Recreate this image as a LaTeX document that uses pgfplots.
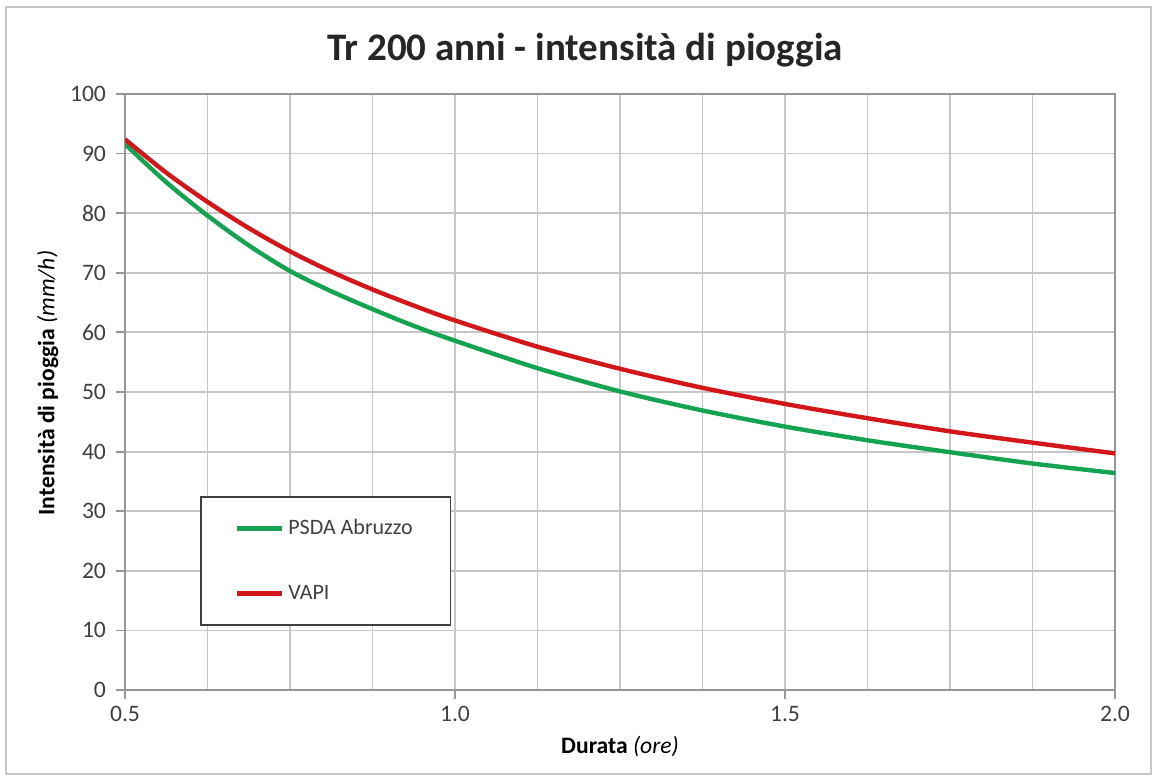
\documentclass[border=0pt]{standalone}
\usepackage{fontspec}
\setmainfont{Carlito}
\usepackage{pgfplots}
\usepackage{pgfplotstable}
\pgfplotsset{compat=1.18}
\definecolor{psda}{RGB}{20,163,80}
\definecolor{vapi}{RGB}{210,22,26}
\definecolor{gridc}{RGB}{198,198,198}
\definecolor{axc}{RGB}{150,150,150}
\definecolor{txt}{RGB}{64,64,64}

\pgfplotstableread{
x y
0.5 91.6
0.5625 85.2
0.625 79.6
0.6875 74.6
0.75 70.3
0.8125 66.9
0.875 63.9
0.9375 61.1
1.0 58.6
1.125 54.0
1.25 50.1
1.375 46.9
1.5 44.2
1.625 41.9
1.75 39.9
1.875 38.0
2.0 36.4
}\psda

\pgfplotstableread{
x y
0.5 92.4
0.5625 86.8
0.625 81.9
0.6875 77.5
0.75 73.6
0.8125 70.2
0.875 67.2
0.9375 64.5
1.0 62.0
1.125 57.6
1.25 53.9
1.375 50.7
1.5 48.0
1.625 45.6
1.75 43.4
1.875 41.5
2.0 39.7
}\vapi

\begin{document}
\begin{tikzpicture}
\useasboundingbox (0pt,0pt) rectangle (579pt,389pt);
\draw[gridc, line width=1pt] (3pt,2pt) rectangle (575.5pt,385.5pt);
\node[font=\fontsize{19.5}{22}\selectfont\bfseries, text=black!85] at (292.5pt,364pt) {Tr 200 anni - intensità di pioggia};
\begin{axis}[
  at={(62.5pt,44pt)}, anchor=south west,
  scale only axis, width=495pt, height=298pt,
  xmin=0.5, xmax=2, ymin=0, ymax=100,
  xtick={0.5,1,1.5,2},
  minor xtick={0.625,0.75,0.875,1.125,1.25,1.375,1.625,1.75,1.875},
  ytick={0,10,...,100},
  xticklabel style={/pgf/number format/.cd, fixed, fixed zerofill, precision=1},
  yticklabel style={xshift=-1.5pt},
  /pgf/number format/assume math mode=true,
  grid=both,
  major grid style={gridc, line width=0.9pt},
  minor grid style={gridc, line width=0.9pt},
  axis line style={axc, line width=0.9pt},
  tick style={axc, line width=0.9pt},
  major tick length=4.5pt, minor tick length=0pt,
  tick align=outside, xtick pos=left, ytick pos=left,
  ticklabel style={font=\fontsize{11.8}{14}\selectfont, text=txt},
  xlabel={\textbf{Durata} \textit{(ore)}},
  ylabel={\textbf{Intensità di pioggia} \textit{(mm/h)}},
  label style={font=\fontsize{11.8}{14}\selectfont, text=black},
  xlabel style={at={(axis description cs:0.5,-0.0956)}, anchor=center},
  ylabel style={at={(axis description cs:-0.078,0.515)}, anchor=center},
  legend style={at={(0.076,0.325)}, anchor=north west, draw=black!75, line width=0.7pt,
    font=\fontsize{11}{13}\selectfont, text=txt,
    inner xsep=17pt, inner ysep=10.5pt, row sep=22pt,
    nodes={inner xsep=2pt, inner ysep=0pt, text height=8pt, text depth=2.5pt}},
  legend cell align=left,
  legend image code/.code={\draw[#1] (0pt,0pt) -- (22.5pt,0pt);},
]
\addplot[psda, line width=2.2pt, smooth] table[x=x,y=y] {\psda};
\addlegendentry{PSDA Abruzzo}
\addplot[vapi, line width=2.2pt, smooth] table[x=x,y=y] {\vapi};
\addlegendentry{VAPI}
\end{axis}
\end{tikzpicture}
\end{document}
